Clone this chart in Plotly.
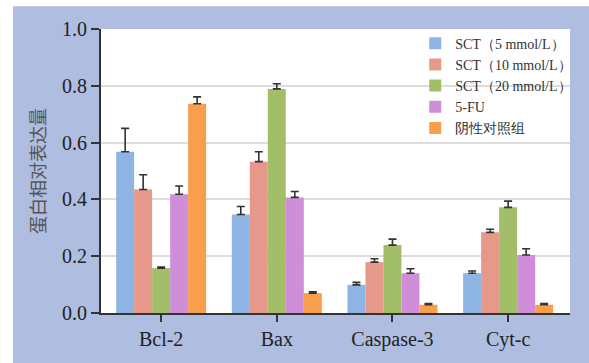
import plotly.graph_objects as go

categories = ["Bcl-2", "Bax", "Caspase-3", "Cyt-c"]
series_names = ["SCT（5 mmol/L）", "SCT（10 mmol/L）", "SCT（20 mmol/L）", "5-FU", "阴性对照组"]

sct5 = [0.568, 0.347, 0.099, 0.140]
sct5_err = [0.082, 0.028, 0.009, 0.008]
sct10 = [0.435, 0.533, 0.179, 0.284]
sct10_err = [0.052, 0.035, 0.012, 0.011]
sct20 = [0.158, 0.789, 0.239, 0.372]
sct20_err = [0.004, 0.018, 0.021, 0.022]
fu5 = [0.418, 0.407, 0.140, 0.204]
fu5_err = [0.029, 0.021, 0.016, 0.022]
neg = [0.737, 0.070, 0.029, 0.029]
neg_err = [0.024, 0.005, 0.004, 0.004]

y_ticks = [0.0, 0.2, 0.4, 0.6, 0.8, 1.0]

values = [sct5, sct10, sct20, fu5, neg]
errors = [sct5_err, sct10_err, sct20_err, fu5_err, neg_err]
colors = ["#8DB4E2", "#E6988A", "#A3BE69", "#CE8FD8", "#F89E4D"]

SERIF = "Liberation Serif"
CJK = "Noto Sans CJK SC"

fig = go.Figure()
for name, v, e, c in zip(series_names, values, errors, colors):
    fig.add_trace(go.Bar(
        x=categories, y=v, name=name,
        marker=dict(color=c, line=dict(width=0)),
        error_y=dict(type="data", symmetric=False, array=e, arrayminus=[0] * len(e),
                     color="#333333", thickness=1.6, width=4),
    ))

W, H = 589, 363
L, R, T, B = 101, 19, 29, 48
pw, ph = W - L - R, H - T - B

shapes = [
    dict(type="rect", xref="paper", yref="paper",
         x0=-L / pw - 0.01, x1=(13 - L) / pw, y0=-B / ph - 0.01, y1=1 + T / ph + 0.01,
         fillcolor="white", line=dict(width=0), layer="below"),
    dict(type="rect", xref="paper", yref="paper",
         x0=-L / pw - 0.01, x1=1 + R / pw + 0.01, y0=1 + (T - 6) / ph, y1=1 + T / ph + 0.01,
         fillcolor="white", line=dict(width=0), layer="below"),
]

fig.update_layout(
    width=W, height=H,
    margin=dict(l=L, r=R, t=T, b=B, pad=0),
    paper_bgcolor="#AFBDE0",
    plot_bgcolor="white",
    barmode="group",
    bargap=0.222,
    bargroupgap=0,
    shapes=shapes,
    font=dict(family=SERIF, color="#222222"),
    legend=dict(
        x=0.67, y=1.005, xanchor="left", yanchor="top",
        bgcolor="rgba(0,0,0,0)", borderwidth=0,
        font=dict(family=SERIF, size=14, color="#333333"),
        tracegroupgap=0,
    ),
    xaxis=dict(
        range=[-0.52, 3.535],
        showline=True, linecolor="#333333", linewidth=2,
        ticks="outside", ticklen=7, tickwidth=1.5, tickcolor="#333333",
        tickfont=dict(family=SERIF, size=20, color="#222222"),
        showgrid=False, zeroline=False,
    ),
    yaxis=dict(
        range=[0, 1.0],
        tickvals=y_ticks, tickformat=".1f",
        showline=True, linecolor="#333333", linewidth=2,
        ticks="outside", ticklen=8, tickwidth=1.5, tickcolor="#333333",
        tickfont=dict(family=SERIF, size=20, color="#222222"),
        showgrid=True, gridcolor="#DDDDDD", gridwidth=1.5,
        zeroline=False,
        title=dict(text="蛋白相对表达量", standoff=12,
                   font=dict(family=CJK, size=18, color="#555555")),
    ),
)

fig.write_html("out.html", config={"displayModeBar": False},
               post_script="document.body.style.margin='0';document.body.style.overflow='hidden';")
